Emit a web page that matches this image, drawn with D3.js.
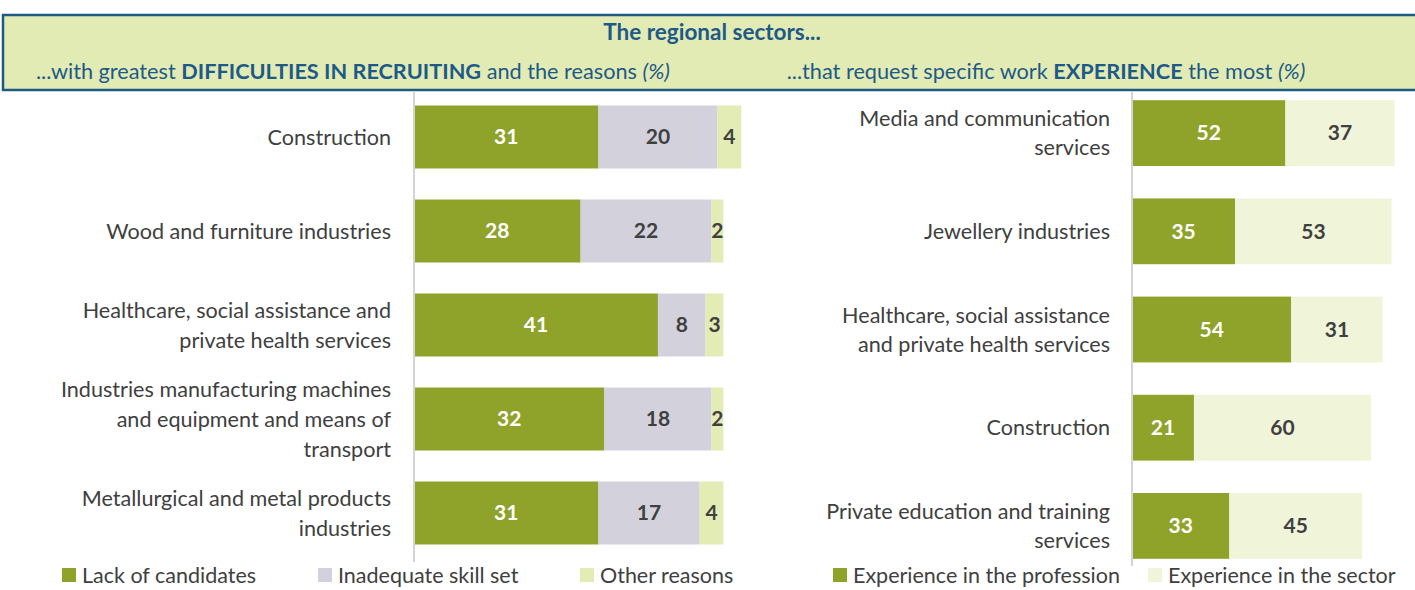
<!DOCTYPE html>
<html>
<head>
<meta charset="utf-8">
<script src="https://cdn.jsdelivr.net/npm/d3@7"></script>
<style>
  html, body { margin: 0; padding: 0; background: #fff; overflow: hidden; }
  svg { display: block; font-family: Lato, "Open Sans", sans-serif; }
</style>
</head>
<body>
<div id="chart"></div>
<script>
// left panel: recruiting difficulties
var leftCats = [
  ["Construction"],
  ["Wood and furniture industries"],
  ["Healthcare, social assistance and", "private health services"],
  ["Industries manufacturing machines", "and equipment and means of", "transport"],
  ["Metallurgical and metal products", "industries"]
];
var lackValues  = [31, 28, 41, 32, 31];
var skillValues = [20, 22, 8, 18, 17];
var otherValues = [4, 2, 3, 2, 4];
var leftSeries = ["Lack of candidates", "Inadequate skill set", "Other reasons"];

// right panel: work experience
var rightCats = [
  ["Media and communication", "services"],
  ["Jewellery industries"],
  ["Healthcare, social assistance", "and private health services"],
  ["Construction"],
  ["Private education and training", "services"]
];
var professionValues = [52, 35, 54, 21, 33];
var sectorValues     = [37, 53, 31, 60, 45];
var rightSeries = ["Experience in the profession", "Experience in the sector"];

var W = 1415, H = 590;
var green = "#8fa32a", grey = "#d3d2dc", pale = "#e3ecb5", paler = "#f0f5da";
var blue = "#1d5a88", textCol = "#404040";

var svg = d3.select("#chart").append("svg")
  .attr("width", W).attr("height", H);

// header box
svg.append("rect")
  .attr("x", 3).attr("y", 15).attr("width", W + 10).attr("height", 75)
  .attr("fill", "#e2ebb3").attr("stroke", blue).attr("stroke-width", 2.5);

svg.append("text")
  .attr("x", 712).attr("y", 40).attr("text-anchor", "middle")
  .attr("fill", blue).attr("font-size", 22.5).attr("font-weight", "bold")
  .text("The regional sectors...");

var sub1 = svg.append("text").attr("x", 36).attr("y", 79)
  .attr("fill", blue).attr("font-size", 21.7);
sub1.append("tspan").text("...with greatest ");
sub1.append("tspan").attr("font-weight", "bold").text("DIFFICULTIES IN RECRUITING");
sub1.append("tspan").text(" and the reasons ");
sub1.append("tspan").attr("font-style", "italic").text("(%)");

var sub2 = svg.append("text").attr("x", 1046).attr("y", 79).attr("text-anchor", "middle")
  .attr("fill", blue).attr("font-size", 21.7);
sub2.append("tspan").text("...that request specific work ");
sub2.append("tspan").attr("font-weight", "bold").text("EXPERIENCE");
sub2.append("tspan").text(" the most ");
sub2.append("tspan").attr("font-style", "italic").text("(%)");

function panel(cfg) {
  var n = cfg.cats.length;
  var y = d3.scaleBand().domain(d3.range(n)).range(cfg.yRange)
    .paddingInner(0.33).paddingOuter(0.165);
  var x = d3.scaleLinear().domain([0, 100]).range(cfg.xRange);

  var rows = d3.range(n).map(function(i) {
    var obj = { i: i };
    cfg.keys.forEach(function(k, j) { obj[k] = cfg.values[j][i]; });
    return obj;
  });
  var stacked = d3.stack().keys(cfg.keys)(rows);

  var g = svg.append("g");
  var layer = g.selectAll("g.layer").data(stacked).enter().append("g")
    .attr("fill", function(d, j) { return cfg.colors[j]; });

  layer.selectAll("rect").data(function(d) { return d; }).enter().append("rect")
    .attr("x", function(d) { return x(d[0]); })
    .attr("y", function(d) { return y(d.data.i); })
    .attr("width", function(d) { return x(d[1]) - x(d[0]); })
    .attr("height", y.bandwidth());

  layer.selectAll("text").data(function(d, j) {
      return d.map(function(v) { return { v: v, j: j }; });
    }).enter().append("text")
    .attr("x", function(d) { return (x(d.v[0]) + x(d.v[1])) / 2; })
    .attr("y", function(d) { return y(d.v.data.i) + y.bandwidth() / 2; })
    .attr("dy", "0.35em")
    .attr("text-anchor", "middle")
    .attr("font-size", 21).attr("font-weight", "bold")
    .attr("fill", function(d) { return d.j === 0 ? "#fff" : textCol; })
    .text(function(d) { return d.v[1] - d.v[0]; });

  // axis line
  g.append("line")
    .attr("x1", x(0)).attr("x2", x(0))
    .attr("y1", cfg.axisY[0]).attr("y2", cfg.axisY[1])
    .attr("stroke", "#d4d4d4").attr("stroke-width", 2);

  // category labels
  var lh = cfg.lineH;
  g.selectAll("text.cat").data(cfg.cats).enter().append("text")
    .attr("class", "cat")
    .attr("text-anchor", "end").attr("font-size", 21.6).attr("fill", textCol)
    .each(function(lines, i) {
      var cy = y(i) + y.bandwidth() / 2;
      var top = cy - (lines.length - 1) * lh / 2;
      d3.select(this).selectAll("tspan").data(lines).enter().append("tspan")
        .attr("x", cfg.labelX)
        .attr("y", function(l, k) { return top + k * lh; })
        .attr("dy", "0.35em")
        .text(function(l) { return l; });
    });

  // legend
  var leg = g.selectAll("g.leg").data(cfg.series).enter().append("g")
    .attr("transform", function(d, j) { return "translate(" + cfg.legX[j] + "," + cfg.legY + ")"; });
  leg.append("rect").attr("x", 0).attr("y", -7).attr("width", 14).attr("height", 14)
    .attr("fill", function(d, j) { return cfg.colors[j]; });
  leg.append("text").attr("x", 20).attr("y", 0).attr("dy", "0.35em")
    .attr("font-size", 21.5).attr("fill", textCol)
    .text(function(d) { return d; });
}

panel({
  cats: leftCats,
  keys: ["lack", "skill", "other"],
  values: [lackValues, skillValues, otherValues],
  colors: [green, grey, pale],
  series: leftSeries,
  yRange: [90, 560],
  xRange: [414, 1009],
  axisY: [92, 562],
  labelX: 391,
  lineH: 30,
  legX: [62, 318, 580],
  legY: 575
});

panel({
  cats: rightCats,
  keys: ["prof", "sect"],
  values: [professionValues, sectorValues],
  colors: [green, paler],
  series: rightSeries,
  yRange: [84, 575],
  xRange: [1132, 1427],
  axisY: [92, 566],
  labelX: 1110,
  lineH: 29,
  legX: [833, 1148],
  legY: 575
});
</script>
</body>
</html>
